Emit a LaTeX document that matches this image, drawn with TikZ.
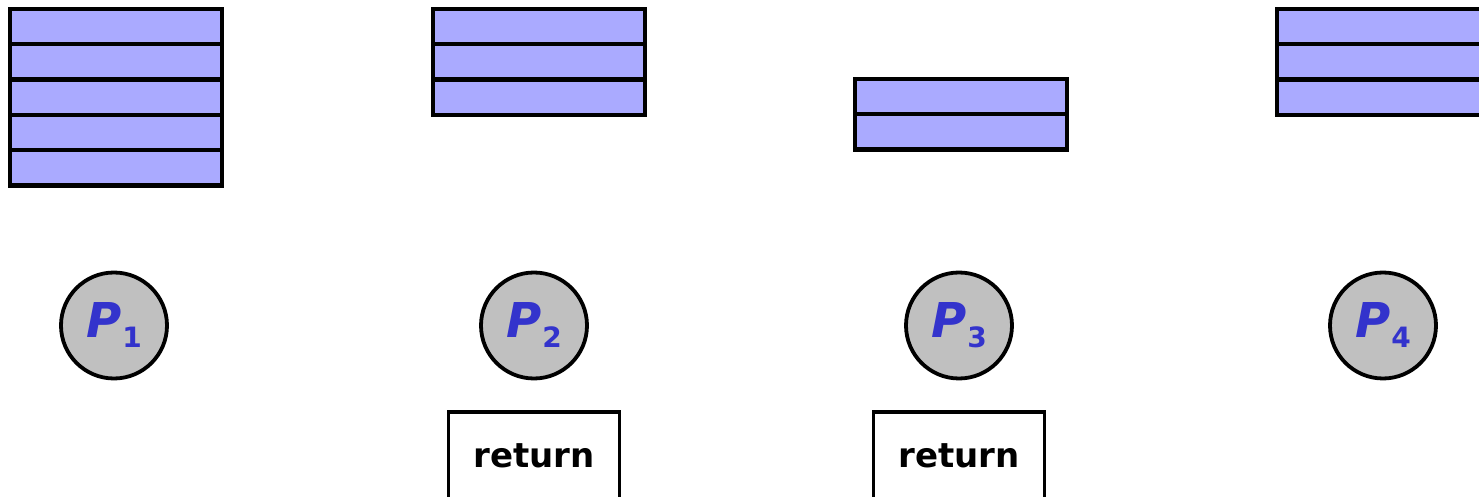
\documentclass[tikz,border=0pt]{standalone}
\usepackage{fontspec}
\setmainfont{DejaVu Sans}
\usetikzlibrary{positioning}

\definecolor{slotblue}{RGB}{170,170,255}
\definecolor{procgray}{RGB}{192,192,192}
\definecolor{labelblue}{RGB}{51,51,204}

\newcommand{\proclabel}[1]{P\kern0.5pt\raisebox{-5pt}{\fontsize{14}{14}\selectfont\upshape #1}}

\begin{document}
\begin{tikzpicture}[
  x=0.5pt, y=-0.5pt,
  slot/.style={rectangle, draw=black, fill=slotblue, line width=2.2pt,
               minimum width=106pt, minimum height=17.65pt, inner sep=0pt},
  proc/.style={circle, draw=black, fill=procgray, line width=1.9pt,
               minimum size=53pt, inner sep=0pt, text=labelblue,
               font=\fontsize{24}{24}\selectfont\bfseries\itshape},
  retbox/.style={rectangle, draw=black, fill=white, line width=1.9pt,
                 minimum width=85.5pt, minimum height=44pt,
                 font=\fontsize{17}{17}\selectfont\bfseries}
]
\useasboundingbox (0,0) rectangle (1479,497);

% stacks of slots
\foreach \i in {1,...,5}
  \node[slot] (sa\i) at (116, {9+35.3*(\i-0.5)}) {};
\foreach \i in {1,...,3}
  \node[slot] (sb\i) at (539, {9+35.3*(\i-0.5)}) {};
\foreach \i in {1,2}
  \node[slot] (sc\i) at (961, {79+35.3*(\i-0.5)}) {};
\foreach \i in {1,...,3}
  \node[slot] (sd\i) at (1383, {9+35.3*(\i-0.5)}) {};

% processes
\node[proc] (p1) at (114,325.5)  {\proclabel{1}};
\node[proc] (p2) at (534,325.5)  {\proclabel{2}};
\node[proc] (p3) at (959,325.5)  {\proclabel{3}};
\node[proc] (p4) at (1383,325.5) {\proclabel{4}};

\node[retbox, below=15pt of p2] (ret2) {return};
\node[retbox, below=15pt of p3] (ret3) {return};

\end{tikzpicture}
\end{document}
